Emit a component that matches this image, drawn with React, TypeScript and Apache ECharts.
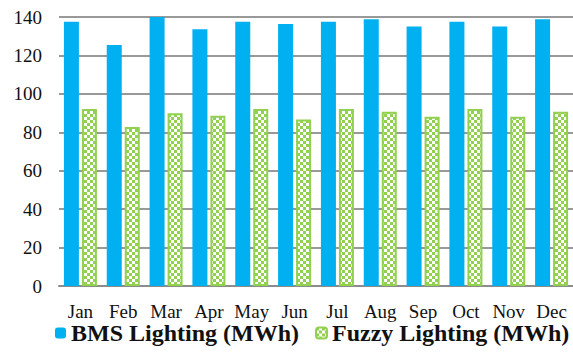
import React, { useEffect, useRef } from "react";
import * as echarts from "echarts";

const months = ["Jan", "Feb", "Mar", "Apr", "May", "Jun", "Jul", "Aug", "Sep", "Oct", "Nov", "Dec"];
const bmsLighting = [137.5, 125.4, 140.5, 133.6, 137.5, 136.3, 137.5, 138.8, 135.0, 137.5, 135.0, 138.8];
const fuzzyLighting = [92.1, 82.7, 89.9, 88.6, 92.1, 86.7, 92.1, 90.7, 88.1, 92.1, 88.1, 90.7];
const seriesNames = ["BMS Lighting (MWh)", "Fuzzy Lighting (MWh)"];

const BLUE = "#00B0F0";
const GREEN = "#92D050";
const FONT = "Liberation Serif";

function makeChecker(): HTMLCanvasElement {
  const c = document.createElement("canvas");
  c.width = 6;
  c.height = 6;
  const ctx = c.getContext("2d")!;
  ctx.fillStyle = "#ffffff";
  ctx.fillRect(0, 0, 6, 6);
  ctx.fillStyle = GREEN;
  ctx.fillRect(0, 0, 3, 3);
  ctx.fillRect(3, 3, 3, 3);
  return c;
}

export default function App() {
  const ref = useRef<HTMLDivElement>(null);
  useEffect(() => {
    if (!ref.current) return;
    const chart = echarts.init(ref.current, null, { renderer: "svg" });
    const checker = makeChecker();
    const pattern: any = { image: checker, repeat: "repeat", imageWidth: 6, imageHeight: 6 };
    chart.setOption({
      animation: false,
      textStyle: { fontFamily: FONT },
      grid: { left: 59, right: 0, top: 17, bottom: 66, containLabel: false },
      legend: {
        top: 321,
        left: 55,
        padding: 0,
        itemWidth: 11,
        itemHeight: 11,
        itemGap: 16,
        textStyle: { fontFamily: FONT, fontSize: 24, fontWeight: "bold", color: "#111", lineHeight: 22 },
        data: seriesNames,
      },
      xAxis: {
        type: "category",
        data: months,
        axisLine: { show: true, lineStyle: { color: "#8c8c8c", width: 2 } },
        axisTick: { show: false },
        axisLabel: { fontFamily: FONT, fontSize: 19, color: "#111", margin: 17, interval: 0, lineHeight: 16 },
      },
      yAxis: {
        type: "value",
        min: 0,
        max: 140,
        interval: 20,
        axisLine: { show: false },
        axisTick: { show: false },
        axisLabel: { fontFamily: FONT, fontSize: 19, color: "#111", margin: 17 },
        splitLine: { lineStyle: { color: "#999999", width: 2 } },
      },
      series: [
        {
          name: seriesNames[0],
          type: "bar",
          data: bmsLighting,
          barWidth: 15,
          barGap: "20%",
          itemStyle: { color: BLUE },
        },
        {
          name: seriesNames[1],
          type: "bar",
          data: fuzzyLighting,
          barWidth: 15,
          itemStyle: { color: pattern, borderColor: GREEN, borderWidth: 2 },
        },
      ],
    });
    return () => chart.dispose();
  }, []);
  return <div ref={ref} style={{ width: 573, height: 352, position: "absolute", left: 0, top: 0 }} />;
}
